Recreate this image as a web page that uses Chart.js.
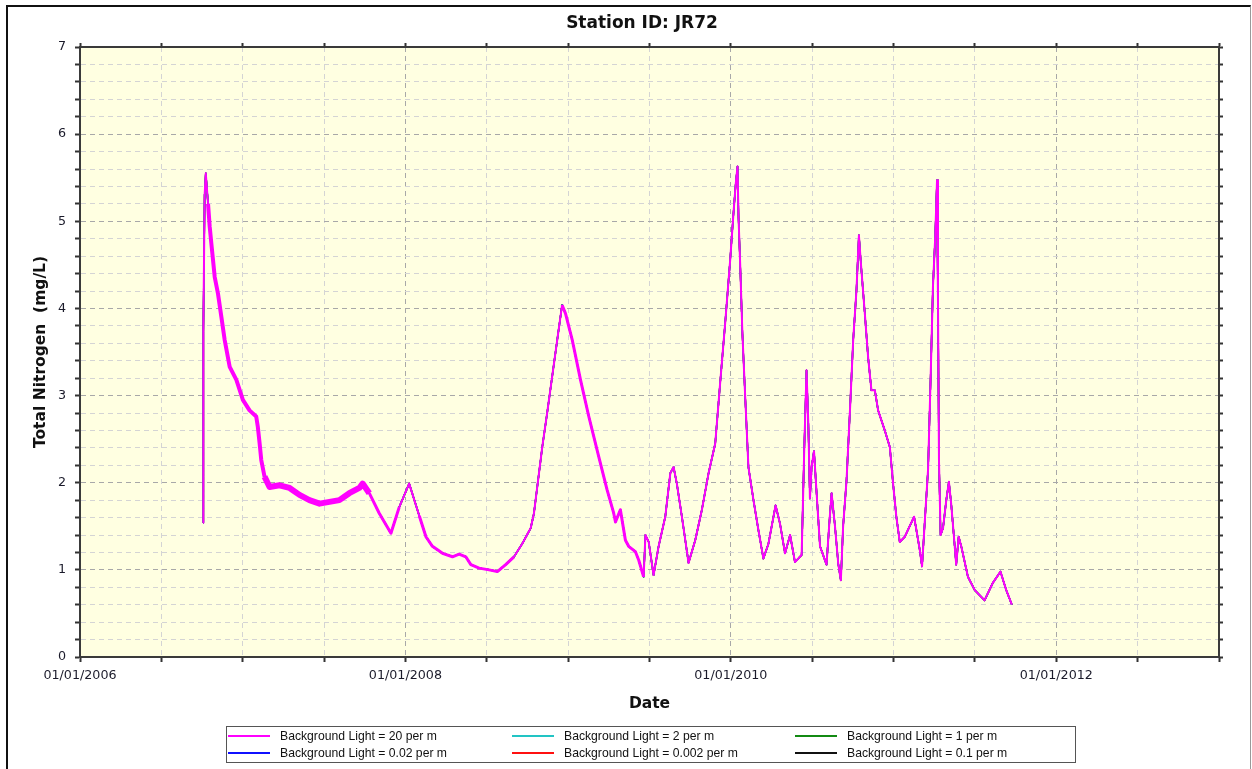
<!DOCTYPE html>
<html>
<head>
<meta charset="utf-8">
<title>Station ID: JR72</title>
<script src="https://cdn.jsdelivr.net/npm/chart.js@4.4.1/dist/chart.umd.min.js"></script>
<style>
  html, body { margin: 0; padding: 0; background: #fff; }
  #wrap { position: relative; width: 1252px; height: 769px; overflow: hidden; }
  #frame {
    position: absolute; left: 6px; top: 5px; width: 1242px; height: 780px;
    border-left: 2px solid #111; border-top: 2px solid #111; border-right: 1px solid #999;
  }
  canvas { position: absolute; left: 0; top: 0; }
  #title {
    position: absolute; left: 542px; top: 12px; width: 200px; text-align: center;
    font: bold 17px "DejaVu Sans", sans-serif; line-height: 20px; color: #111;
  }
  #legend {
    position: absolute; left: 226px; top: 726px; width: 848px; height: 35px;
    border: 1px solid #555; display: grid;
    grid-template-columns: 284px 283px 281px; grid-auto-rows: 17px;
    font: 12.2px "Liberation Sans", Arial, sans-serif; color: #111;
  }
  #legend .item { display: flex; align-items: center; padding-left: 1px; white-space: nowrap; }
  #legend .swatch { width: 42px; height: 2px; margin-right: 10px; }
</style>
</head>
<body>
<div id="wrap">
  <div id="frame"></div>
  <canvas id="chart" width="1252" height="769"></canvas>
  <div id="title">Station ID: JR72</div>
  <div id="legend"></div>
</div>
<script>
// dates as decimal years
const years = [
  2006.756, 2006.758, 2006.766, 2006.773, 2006.787, 2006.797, 2006.807, 2006.828, 2006.848, 2006.869,
  2006.889, 2006.920, 2006.961, 2007.001, 2007.042, 2007.083, 2007.093, 2007.104, 2007.114, 2007.134,
  2007.165, 2007.226, 2007.288, 2007.349, 2007.410, 2007.472, 2007.533, 2007.594, 2007.655, 2007.717,
  2007.737, 2007.778, 2007.839, 2007.911, 2007.962, 2008.023, 2008.085, 2008.126, 2008.166, 2008.228,
  2008.289, 2008.330, 2008.371, 2008.402, 2008.453, 2008.514, 2008.565, 2008.616, 2008.667, 2008.718,
  2008.770, 2008.790, 2008.810, 2008.841, 2008.871, 2008.902, 2008.933, 2008.963, 2008.984, 2009.025,
  2009.076, 2009.127, 2009.188, 2009.239, 2009.280, 2009.291, 2009.321, 2009.352, 2009.372, 2009.413,
  2009.434, 2009.464, 2009.475, 2009.495, 2009.525, 2009.556, 2009.597, 2009.628, 2009.648, 2009.668,
  2009.699, 2009.740, 2009.781, 2009.822, 2009.863, 2009.904, 2009.934, 2009.965, 2009.996, 2010.016,
  2010.030, 2010.041, 2010.047, 2010.057, 2010.071, 2010.088, 2010.108, 2010.139, 2010.169, 2010.200,
  2010.231, 2010.275, 2010.302, 2010.333, 2010.364, 2010.394, 2010.435, 2010.445, 2010.451, 2010.465,
  2010.476, 2010.486, 2010.496, 2010.511, 2010.527, 2010.548, 2010.588, 2010.605, 2010.619, 2010.640,
  2010.660, 2010.676, 2010.690, 2010.711, 2010.732, 2010.752, 2010.772, 2010.787, 2010.799, 2010.823,
  2010.844, 2010.864, 2010.885, 2010.905, 2010.946, 2010.977, 2010.997, 2011.017, 2011.038, 2011.069,
  2011.126, 2011.140, 2011.161, 2011.175, 2011.191, 2011.212, 2011.228, 2011.242, 2011.256, 2011.267,
  2011.273, 2011.279, 2011.289, 2011.304, 2011.324, 2011.340, 2011.354, 2011.371, 2011.385, 2011.400,
  2011.416, 2011.457, 2011.498, 2011.559, 2011.610, 2011.657, 2011.692, 2011.727
];

// Total Nitrogen (mg/L); all six light scenarios sit on top of each other at this scale
const totalN = [
  1.54, 3.73, 5.30, 5.55, 5.20, 4.94, 4.75, 4.36, 4.17, 3.90,
  3.64, 3.33, 3.18, 2.95, 2.83, 2.76, 2.64, 2.45, 2.26, 2.07,
  1.95, 1.97, 1.94, 1.86, 1.80, 1.76, 1.78, 1.80, 1.88, 1.94,
  1.99, 1.88, 1.65, 1.42, 1.72, 1.99, 1.62, 1.38, 1.27, 1.19,
  1.15, 1.18, 1.15, 1.06, 1.02, 1.00, 0.98, 1.06, 1.15, 1.30,
  1.48, 1.65, 1.95, 2.41, 2.80, 3.22, 3.64, 4.04, 3.94, 3.64,
  3.18, 2.76, 2.30, 1.92, 1.65, 1.55, 1.69, 1.34, 1.27, 1.21,
  1.11, 0.92, 1.40, 1.32, 0.94, 1.27, 1.61, 2.11, 2.18, 1.99,
  1.61, 1.08, 1.34, 1.69, 2.11, 2.45, 3.14, 3.83, 4.56, 5.09,
  5.43, 5.63, 5.05, 4.52, 3.71, 2.99, 2.18, 1.80, 1.46, 1.13,
  1.30, 1.74, 1.53, 1.19, 1.40, 1.09, 1.17, 1.92, 2.38, 3.29,
  2.68, 1.82, 2.18, 2.36, 1.88, 1.27, 1.06, 1.53, 1.88, 1.50,
  1.07, 0.88, 1.50, 2.03, 2.83, 3.64, 4.21, 4.84, 4.52, 3.95,
  3.43, 3.06, 3.06, 2.83, 2.60, 2.41, 1.99, 1.61, 1.32, 1.38,
  1.61, 1.46, 1.23, 1.04, 1.53, 2.15, 3.22, 4.25, 4.82, 5.47,
  4.06, 2.26, 1.40, 1.48, 1.80, 2.01, 1.76, 1.38, 1.06, 1.38,
  1.27, 0.92, 0.77, 0.65, 0.85, 0.98, 0.77, 0.60
];

const seriesNames = [
  'Background Light = 20 per m', 'Background Light = 2 per m', 'Background Light = 1 per m',
  'Background Light = 0.02 per m', 'Background Light = 0.002 per m', 'Background Light = 0.1 per m'
];
const seriesColors = ['#ff00ff', '#22c4c4', '#138a13', '#1010ff', '#ff1010', '#111111'];

// thicker stroke where the daily data is noisy
const noisyRanges = [[2006.78, 2007.12, 4], [2007.12, 2007.74, 6], [2007.74, 2007.95, 3],
                     [2008.08, 2008.62, 3], [2008.95, 2009.45, 3]];
function strokeAt(x) {
  for (const r of noisyRanges) {
    if (x >= r[0] && x < r[1]) return r[2];
  }
  return 2;
}

const isWhole = v => Math.abs(v - Math.round(v)) < 1e-6;

const plotBackground = {
  id: 'plotBackground',
  beforeDraw(chart) {
    const { ctx, chartArea: a } = chart;
    ctx.save();
    ctx.fillStyle = '#ffffe1';
    ctx.fillRect(a.left, a.top, a.right - a.left, a.bottom - a.top);
    ctx.restore();
  }
};

const points = years.map((x, i) => ({ x: x, y: totalN[i] }));

const datasets = seriesNames.map((name, i) => ({
  label: name,
  data: points,
  borderColor: seriesColors[i],
  borderWidth: i === 0 ? 2 : 1.5,
  borderJoinStyle: 'round',
  pointRadius: 0,
  tension: 0,
  segment: i === 0 ? { borderWidth: ctx => strokeAt(ctx.p0.parsed.x) } : undefined
}));

const axisBorder = { display: true, color: '#3a3a3a', width: 2, dash: [5, 4] };

new Chart(document.getElementById('chart'), {
  type: 'line',
  data: { datasets: datasets },
  options: {
    responsive: false,
    animation: false,
    layout: { padding: { left: 28, right: 27, top: 41, bottom: 52 } },
    plugins: { legend: { display: false }, tooltip: { enabled: false }, title: { display: false } },
    scales: {
      x: {
        type: 'linear', position: 'bottom', min: 2006, max: 2013,
        afterFit: s => { s.height = 60; },
        ticks: {
          stepSize: 0.5, autoSkip: false, maxRotation: 0, padding: 6, color: '#1a1a2a',
          font: { family: 'DejaVu Sans', size: 12.7 },
          callback: v => (isWhole(v) && Math.round(v) % 2 === 0) ? '01/01/' + Math.round(v) : ''
        },
        grid: {
          color: c => (isWhole(c.tick.value) && Math.round(c.tick.value) % 2 === 0) ? '#a8a8a8' : '#d4d4d4',
          lineWidth: 1, tickLength: 5, tickColor: '#333', tickWidth: 2
        },
        border: axisBorder,
        title: { display: true, text: 'Date', color: '#111', font: { family: 'DejaVu Sans', size: 15.5, weight: 'bold' } }
      },
      xTop: {
        type: 'linear', position: 'top', min: 2006, max: 2013,
        afterFit: s => { s.height = 6; },
        ticks: { stepSize: 0.5, autoSkip: false, display: false },
        grid: { drawOnChartArea: false, tickLength: 4, tickColor: '#333', tickWidth: 2 },
        border: axisBorder
      },
      y: {
        type: 'linear', position: 'left', min: 0, max: 7,
        afterFit: s => { s.width = 52; },
        ticks: {
          stepSize: 0.2, autoSkip: false, padding: 9, color: '#1a1a2a',
          font: { family: 'DejaVu Sans', size: 12.7 },
          callback: v => isWhole(v) ? String(Math.round(v)) : ''
        },
        grid: {
          color: c => isWhole(c.tick.value) ? '#a8a8a8' : '#d4d4d4',
          lineWidth: 1, tickLength: 5, tickColor: '#333', tickWidth: 2
        },
        border: axisBorder,
        title: { display: true, text: 'Total Nitrogen  (mg/L)', color: '#111', font: { family: 'DejaVu Sans', size: 15.5, weight: 'bold' } }
      },
      yRight: {
        type: 'linear', position: 'right', min: 0, max: 7,
        afterFit: s => { s.width = 6; },
        ticks: { stepSize: 0.2, autoSkip: false, display: false },
        grid: { drawOnChartArea: false, tickLength: 4, tickColor: '#333', tickWidth: 2 },
        border: axisBorder
      }
    }
  },
  plugins: [plotBackground]
});

// legend box under the chart, three entries per row
const legendBox = document.getElementById('legend');
seriesNames.forEach((name, i) => {
  const item = document.createElement('div');
  item.className = 'item';
  const sw = document.createElement('span');
  sw.className = 'swatch';
  sw.style.background = seriesColors[i];
  item.appendChild(sw);
  item.appendChild(document.createTextNode(name));
  legendBox.appendChild(item);
});
</script>
</body>
</html>
